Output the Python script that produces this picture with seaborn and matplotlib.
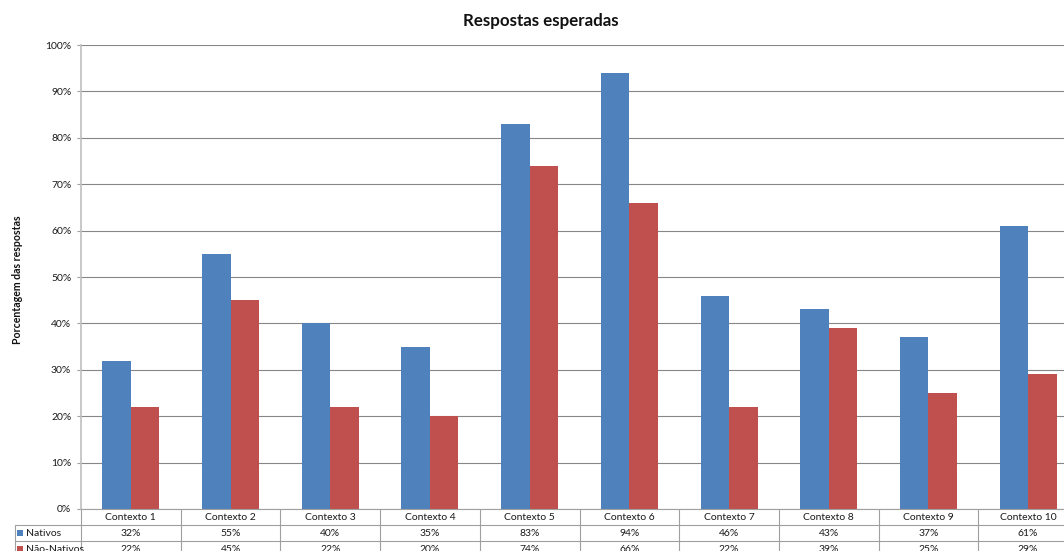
import matplotlib
matplotlib.use("Agg")
import matplotlib.pyplot as plt
import seaborn as sns
import pandas as pd
import numpy as np

# data
contextos = ["Contexto 1", "Contexto 2", "Contexto 3", "Contexto 4", "Contexto 5",
             "Contexto 6", "Contexto 7", "Contexto 8", "Contexto 9", "Contexto 10"]
nativos = [32, 55, 40, 35, 83, 94, 46, 43, 37, 61]
nao_nativos = [22, 45, 22, 20, 74, 66, 22, 39, 25, 29]
grupos = ["Nativos", "Não-Nativos"]
cores = ["#4F81BD", "#C0504D"]

df = pd.DataFrame({
    "Contexto": contextos * 2,
    "Valor": nativos + nao_nativos,
    "Grupo": [grupos[0]] * len(contextos) + [grupos[1]] * len(contextos),
})

sns.set_theme(style="white")
plt.rcParams["font.family"] = ["Lato", "DejaVu Sans"]

W, H = 1064, 551
fig = plt.figure(figsize=(W / 100, H / 100), dpi=100)
x0, x1, ytop, ybot = 81, 1078, 45, 509
ax = fig.add_axes([x0 / W, 1 - ybot / H, (x1 - x0) / W, (ybot - ytop) / H])

sns.barplot(data=df, x="Contexto", y="Valor", hue="Grupo", palette=cores,
            width=0.572, saturation=1, ax=ax, legend=False, linewidth=0)

ax.set_xlim(-0.5, len(contextos) - 0.5)
ax.set_ylim(0, 100)
ax.set_yticks(np.arange(0, 101, 10))
ax.set_yticklabels([f"{v}%" for v in range(0, 101, 10)], fontsize=7.5, color="#1a1a1a")
ax.set_xticks([])
ax.set_xlabel("")
ax.set_ylabel("")
ax.tick_params(axis="y", length=3, width=0.8, color="#A0A0A0", pad=4, left=True)
ax.yaxis.grid(True, color="#868686", linewidth=0.8)
ax.set_axisbelow(True)
for s in ["top", "right"]:
    ax.spines[s].set_visible(False)
ax.spines["left"].set_color("#BFBFBF")
ax.spines["left"].set_linewidth(1.2)
ax.spines["bottom"].set_color("#A0A0A0")
ax.spines["bottom"].set_linewidth(0.8)

# data table under the chart (Excel style)
tr = ax.get_xaxis_transform()
row_h = 16 / (ybot - ytop)
line_kw = dict(color="#A0A0A0", linewidth=0.8, clip_on=False, transform=tr)
left_x = -0.5 - (x0 - 15) / ((x1 - x0) / len(contextos))
n_rows = 3
for r in range(1, n_rows + 1):
    ax.plot([left_x, len(contextos) - 0.5], [-r * row_h, -r * row_h], **line_kw)
ax.plot([left_x, left_x], [-row_h, -n_rows * row_h], **line_kw)
for k in range(len(contextos) + 1):
    ax.plot([k - 0.5, k - 0.5], [0, -n_rows * row_h], **line_kw)

for i, c in enumerate(contextos):
    ax.text(i, -0.5 * row_h, c, ha="center", va="center", fontsize=7.5,
            color="#1a1a1a", transform=tr, clip_on=False)
    ax.text(i, -1.5 * row_h, f"{nativos[i]}%", ha="center", va="center",
            fontsize=7.5, color="#1a1a1a", transform=tr, clip_on=False)
    ax.text(i, -2.5 * row_h, f"{nao_nativos[i]}%", ha="center", va="center",
            fontsize=7.5, color="#1a1a1a", transform=tr, clip_on=False)

unit = (x1 - x0) / len(contextos)
for j, (g, cor) in enumerate(zip(grupos, cores)):
    yy = -(1.5 + j) * row_h
    ax.scatter([left_x + 5 / unit], [yy], marker="s", s=14, color=cor,
               transform=tr, clip_on=False, linewidths=0)
    ax.text(left_x + 11 / unit, yy, g, ha="left", va="center", fontsize=7.5,
            color="#1a1a1a", transform=tr, clip_on=False)

fig.text(541 / W, 1 - 21 / H, "Respostas esperadas", ha="center", va="center",
         fontsize=12.2, fontweight="bold", color="#111111")
fig.text(18 / W, 1 - 280 / H, "Porcentagem das respostas", ha="center", va="center",
         rotation=90, fontsize=7.6, fontweight="bold", color="#111111")

fig.savefig("out.png", dpi=100)
